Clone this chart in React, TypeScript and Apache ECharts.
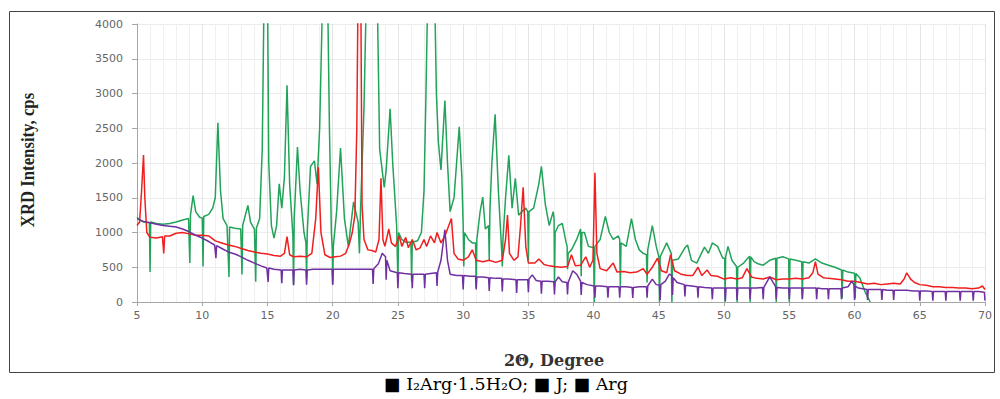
import React, { useEffect, useRef } from "react";
import * as echarts from "echarts";

// 2θ (degree), intensity (cps)
const greenData: [number, number][] = [
  [5.0, 1220], [5.2, 1180], [5.5, 1150], [5.95, 1140], [6.0, 430], [6.05, 1150], [6.5, 1130], [7.0, 1120],
  [7.5, 1130], [8.0, 1150], [8.5, 1180], [8.95, 1200], [9.05, 560], [9.1, 1250], [9.3, 1530], [9.5, 1300],
  [9.8, 1220], [10.0, 1210], [10.06, 510], [10.12, 1230], [10.5, 1260], [10.8, 1350], [11.0, 1500], [11.2, 2580],
  [11.4, 1600], [11.6, 1200], [11.9, 1100], [12.05, 360], [12.1, 1080], [12.5, 1060], [12.95, 1050], [13.05, 395],
  [13.1, 1100], [13.5, 1390], [13.7, 1150], [14.0, 1050], [14.1, 290], [14.15, 1060], [14.4, 1200], [14.6, 2200],
  [14.75, 4600], [15.0, 4600], [15.1, 2000], [15.3, 1100], [15.5, 920], [15.7, 1100], [15.9, 1700], [16.1, 1350],
  [16.3, 1800], [16.5, 3120], [16.7, 1700], [16.95, 950], [17.0, 245], [17.05, 1200], [17.3, 2230], [17.5, 1600],
  [17.8, 1000], [17.95, 850], [18.0, 330], [18.05, 1000], [18.3, 1950], [18.6, 2030], [18.8, 1700], [19.0, 2500],
  [19.25, 4600], [19.6, 4600], [19.75, 2500], [19.9, 1000], [19.97, 750], [20.0, 250], [20.05, 800], [20.3, 1300],
  [20.6, 2216], [20.9, 1200], [21.2, 800], [21.6, 1440], [21.95, 1150], [22.05, 700], [22.15, 1400], [22.4, 2800],
  [22.6, 4600], [23.4, 4600], [23.6, 2200], [23.95, 1650], [24.1, 1900], [24.4, 2780], [24.6, 2000], [24.9, 1100],
  [25.0, 300], [25.05, 1000], [25.3, 900], [25.6, 860], [26.0, 860], [26.05, 300], [26.1, 860], [26.5, 880],
  [26.8, 1000], [27.0, 1600], [27.15, 3000], [27.3, 4600], [27.55, 4400], [27.8, 4600], [27.95, 3000], [28.1, 2300],
  [28.3, 1900], [28.6, 2900], [28.8, 2000], [29.0, 1300], [29.3, 1500], [29.7, 2520], [29.9, 1800], [30.0, 1100],
  [30.05, 510], [30.1, 1000], [30.4, 900], [30.7, 850], [30.95, 850], [31.0, 200], [31.05, 900], [31.3, 1300],
  [31.5, 1510], [31.7, 1050], [31.95, 1100], [32.0, 600], [32.05, 1300], [32.2, 2000], [32.45, 2700], [32.7, 1600],
  [32.95, 750], [33.0, 510], [33.05, 900], [33.25, 1500], [33.5, 2110], [33.75, 1350], [34.0, 1780], [34.25, 1250],
  [34.5, 1300], [34.8, 1350], [34.95, 1300], [35.0, 600], [35.05, 1300], [35.4, 1350], [35.8, 1700], [36.0, 1950],
  [36.3, 1400], [36.6, 1100], [36.9, 1300], [36.97, 1200], [37.0, 230], [37.05, 1000], [37.3, 1100], [37.6, 1130],
  [37.9, 850], [37.97, 800], [38.0, 470], [38.05, 700], [38.3, 750], [38.7, 900], [39.0, 1050], [39.05, 370],
  [39.1, 1000], [39.3, 1000], [39.6, 800], [40.0, 780], [40.05, 0], [40.1, 800], [40.5, 900], [40.9, 1230],
  [41.2, 1000], [41.5, 900], [41.9, 950], [42.0, 900], [42.05, 230], [42.1, 850], [42.5, 800], [42.9, 1200],
  [43.2, 900], [43.5, 750], [43.8, 700], [44.05, 680], [44.1, 280], [44.15, 750], [44.5, 1100], [44.8, 800],
  [45.0, 650], [45.05, 0], [45.1, 650], [45.6, 850], [45.95, 700], [46.0, 0], [46.05, 600], [46.5, 620],
  [47.0, 780], [47.2, 820], [47.5, 600], [47.9, 560], [48.5, 790], [48.8, 700], [49.1, 850], [49.5, 800],
  [49.9, 630], [50.05, 630], [50.08, 0], [50.12, 650], [50.3, 800], [50.6, 600], [50.95, 510], [51.0, 0],
  [51.05, 500], [51.5, 560], [51.95, 660], [52.0, 0], [52.05, 650], [52.3, 580], [52.6, 550], [53.0, 530],
  [53.5, 600], [53.95, 630], [54.0, 0], [54.05, 630], [54.5, 650], [54.95, 620], [55.0, 0], [55.05, 620],
  [55.5, 600], [55.95, 580], [56.0, 50], [56.05, 580], [56.5, 560], [57.0, 620], [57.5, 560], [58.0, 530],
  [58.5, 500], [59.0, 460], [59.05, 50], [59.1, 460], [59.5, 430], [60.0, 415], [60.05, 50], [60.1, 410],
  [60.4, 350], [60.8, 150], [61.2, 0],
];

const redData: [number, number][] = [
  [5.0, 1100], [5.2, 1150], [5.35, 1600], [5.5, 2115], [5.6, 1500], [5.75, 1000], [6.0, 930], [6.5, 920],
  [6.95, 940], [7.05, 700], [7.12, 950], [7.5, 950], [8.0, 990], [8.5, 1000], [9.0, 980], [9.5, 960],
  [10.0, 960], [10.5, 950], [11.0, 880], [11.5, 850], [12.0, 820], [12.5, 800], [13.0, 770], [13.5, 740],
  [14.0, 720], [14.5, 700], [15.0, 690], [15.5, 670], [16.0, 660], [16.3, 700], [16.5, 940], [16.7, 680],
  [17.0, 650], [17.5, 660], [18.0, 650], [18.4, 700], [18.7, 1200], [18.9, 1940], [19.1, 1000], [19.4, 680],
  [19.8, 640], [20.2, 650], [20.6, 660], [21.0, 700], [21.3, 850], [21.5, 1000], [21.7, 1250], [21.85, 2500],
  [21.95, 4600], [22.15, 4600], [22.25, 1400], [22.4, 900], [22.7, 750], [23.0, 740], [23.3, 720], [23.55, 900],
  [23.7, 1780], [23.85, 900], [24.0, 800], [24.3, 1050], [24.5, 850], [24.8, 800], [25.1, 950], [25.3, 800],
  [25.6, 930], [25.8, 780], [26.1, 900], [26.4, 750], [26.7, 780], [27.0, 900], [27.2, 800], [27.5, 950],
  [27.8, 850], [28.0, 1000], [28.3, 850], [28.6, 950], [28.9, 1100], [29.1, 1200], [29.3, 700], [29.6, 620],
  [30.0, 600], [30.4, 650], [30.7, 750], [31.0, 600], [31.5, 580], [32.0, 600], [32.5, 570], [33.0, 600],
  [33.25, 900], [33.4, 1250], [33.55, 700], [33.9, 600], [34.2, 650], [34.4, 1100], [34.6, 1650], [34.8, 800],
  [35.0, 560], [35.5, 560], [35.8, 620], [36.2, 540], [36.6, 520], [37.0, 510], [37.5, 500], [38.0, 510],
  [38.3, 680], [38.6, 520], [39.0, 530], [39.4, 650], [39.7, 500], [39.95, 600], [40.1, 1860], [40.25, 700],
  [40.5, 480], [41.0, 450], [41.5, 560], [41.8, 430], [42.3, 440], [42.8, 420], [43.3, 430], [43.8, 480],
  [44.1, 400], [44.5, 500], [44.9, 630], [45.2, 450], [45.6, 420], [45.9, 680], [46.2, 450], [46.7, 400],
  [47.2, 380], [47.6, 380], [48.0, 500], [48.3, 380], [48.7, 460], [49.0, 380], [49.5, 370], [50.0, 330],
  [50.5, 350], [51.0, 330], [51.4, 350], [51.75, 480], [52.1, 360], [52.5, 340], [53.0, 330], [53.5, 360],
  [54.0, 320], [54.5, 330], [55.0, 330], [55.5, 340], [56.0, 330], [56.5, 350], [56.8, 420], [57.0, 580],
  [57.2, 400], [57.6, 350], [58.0, 340], [58.5, 330], [59.0, 320], [59.5, 300], [60.0, 300], [60.5, 280],
  [61.0, 260], [61.5, 270], [62.0, 250], [62.5, 260], [63.0, 270], [63.5, 260], [63.8, 330], [64.0, 420],
  [64.3, 330], [64.6, 280], [65.0, 250], [65.5, 240], [66.0, 220], [66.5, 220], [67.0, 210], [67.5, 210],
  [68.0, 200], [68.5, 200], [69.0, 190], [69.5, 200], [69.8, 230], [70.0, 180],
];

const purpleData: [number, number][] = [
  [5.0, 1200], [5.5, 1160], [6.0, 1140], [6.5, 1120], [7.0, 1100], [7.5, 1090], [8.0, 1080], [8.5, 1050],
  [9.0, 1010], [9.5, 960], [10.0, 920], [10.5, 870], [10.95, 820], [11.05, 630], [11.1, 810], [11.5, 770],
  [12.0, 720], [12.5, 690], [13.0, 650], [13.5, 600], [14.0, 560], [14.5, 520], [14.95, 490], [15.05, 290],
  [15.1, 490], [15.5, 470], [16.05, 460], [16.1, 270], [16.15, 460], [16.5, 460], [16.95, 460], [17.0, 240],
  [17.05, 460], [17.5, 470], [17.95, 460], [18.0, 250], [18.05, 460], [18.5, 470], [19.0, 470], [19.5, 470],
  [19.95, 470], [20.0, 250], [20.05, 470], [20.5, 470], [21.0, 470], [21.5, 470], [22.0, 470], [22.5, 470],
  [23.05, 470], [23.1, 260], [23.15, 480], [23.5, 550], [23.8, 700], [24.05, 650], [24.1, 320], [24.15, 600],
  [24.4, 450], [24.95, 420], [25.0, 200], [25.05, 420], [25.5, 410], [26.05, 400], [26.1, 200], [26.15, 400],
  [26.5, 400], [27.0, 400], [27.05, 200], [27.1, 400], [27.5, 410], [27.95, 420], [28.0, 230], [28.05, 430],
  [28.3, 600], [28.6, 1040], [28.8, 600], [29.0, 400], [29.5, 380], [29.95, 380], [30.0, 180], [30.05, 380],
  [30.5, 370], [30.95, 370], [31.0, 180], [31.05, 360], [31.5, 360], [31.95, 350], [32.0, 160], [32.05, 350],
  [32.5, 340], [32.95, 340], [33.0, 150], [33.05, 330], [33.5, 330], [34.05, 320], [34.1, 130], [34.15, 320],
  [34.5, 320], [34.95, 320], [35.0, 140], [35.05, 330], [35.3, 390], [35.6, 310], [35.95, 300], [36.0, 120],
  [36.05, 300], [36.5, 300], [36.95, 290], [37.0, 110], [37.05, 290], [37.3, 360], [37.6, 290], [37.95, 280],
  [38.0, 110], [38.05, 280], [38.4, 450], [38.7, 400], [39.0, 300], [39.05, 100], [39.1, 280], [39.5, 250],
  [40.05, 230], [40.1, 60], [40.15, 230], [40.5, 230], [41.05, 220], [41.1, 60], [41.15, 220], [41.5, 220],
  [41.95, 220], [42.0, 60], [42.05, 220], [42.5, 220], [42.95, 210], [43.0, 60], [43.05, 210], [43.5, 220],
  [44.05, 220], [44.1, 60], [44.15, 230], [44.5, 330], [44.8, 250], [45.05, 240], [45.1, 30], [45.15, 250],
  [45.5, 300], [45.8, 400], [46.0, 380], [46.05, 100], [46.1, 350], [46.4, 280], [46.95, 250], [47.0, 80],
  [47.05, 240], [47.5, 230], [47.95, 220], [48.0, 60], [48.05, 220], [48.5, 210], [49.05, 200], [49.1, 40],
  [49.15, 200], [49.5, 200], [50.05, 200], [50.1, 20], [50.15, 200], [50.5, 200], [50.95, 200], [51.0, 30],
  [51.05, 200], [51.5, 200], [51.95, 200], [52.0, 40], [52.05, 200], [52.5, 200], [52.95, 210], [53.0, 40],
  [53.05, 210], [53.5, 360], [53.95, 220], [54.0, 40], [54.05, 210], [54.5, 200], [54.95, 200], [55.0, 40],
  [55.05, 200], [55.5, 200], [55.95, 200], [56.0, 40], [56.05, 200], [56.5, 200], [57.05, 200], [57.1, 40],
  [57.15, 200], [57.5, 190], [57.95, 190], [58.0, 40], [58.05, 190], [58.5, 190], [58.95, 190], [59.0, 40],
  [59.05, 200], [59.5, 220], [59.8, 300], [59.95, 250], [60.0, 30], [60.05, 230], [60.3, 200], [60.95, 180],
  [61.0, 30], [61.05, 180], [61.5, 180], [62.05, 180], [62.1, 30], [62.15, 180], [62.5, 170], [62.95, 170],
  [63.0, 30], [63.05, 170], [63.5, 170], [64.0, 170], [64.5, 160], [64.95, 160], [65.0, 20], [65.05, 160],
  [65.5, 160], [65.95, 150], [66.0, 20], [66.05, 150], [66.5, 150], [66.95, 150], [67.0, 20], [67.05, 150],
  [67.5, 150], [68.05, 150], [68.1, 20], [68.15, 150], [68.5, 150], [69.05, 150], [69.1, 20], [69.15, 150],
  [69.5, 150], [69.95, 140], [70.0, 20],
];

const xTitle = "2Θ, Degree";
const yTitle = "XRD Intensity, cps";
const legendText = "■ I₂Arg·1.5H₂O; ■ J; ■ Arg";

export default function App() {
  const ref = useRef<HTMLDivElement>(null);
  useEffect(() => {
    if (!ref.current) return;
    const chart = echarts.init(ref.current, undefined, { renderer: "svg" });
    const lineSeries = (data: [number, number][], color: string) => ({
      type: "line",
      data,
      showSymbol: false,
      symbol: "none",
      clip: true,
      lineStyle: { color, width: 1.5 },
      emphasis: { disabled: true },
    });
    chart.setOption({
      animation: false,
      backgroundColor: "#ffffff",
      grid: { left: 137, right: 15, top: 24, bottom: 97 },
      xAxis: {
        type: "value",
        min: 5,
        max: 70,
        interval: 5,
        axisLine: { lineStyle: { color: "#a6a6a6" } },
        axisTick: { show: true, length: 4, lineStyle: { color: "#a6a6a6" } },
        axisLabel: { color: "#666", fontFamily: "DejaVu Sans", fontSize: 11, margin: 8 },
        splitLine: { show: true, lineStyle: { color: "#e4e4e4", width: 1 } },
        minorTick: { show: false, splitNumber: 5 },
        minorSplitLine: { show: true, lineStyle: { color: "#f0f0f0", width: 1 } },
      },
      yAxis: {
        type: "value",
        min: 0,
        max: 4000,
        interval: 500,
        axisLine: { show: true, lineStyle: { color: "#a6a6a6" } },
        axisTick: { show: true, length: 5, lineStyle: { color: "#a6a6a6" } },
        axisLabel: {
          color: "#666",
          fontFamily: "DejaVu Sans",
          fontSize: 11,
          margin: 14,
          formatter: (v: number) => String(v),
        },
        splitLine: { show: true, lineStyle: { color: "#ececec", width: 1 } },
      },
      series: [
        lineSeries(greenData, "#22a35a"),
        lineSeries(redData, "#f01e1e"),
        lineSeries(purpleData, "#7030a0"),
      ],
      graphic: [
        {
          type: "rect",
          shape: { x: 9.5, y: 11.5, width: 985, height: 361 },
          style: { fill: "none", stroke: "#444", lineWidth: 1 },
          silent: true,
        },
        {
          type: "text",
          x: 28,
          y: 160,
          rotation: Math.PI / 2,
          scaleX: 0.93,
          style: {
            text: yTitle,
            font: "bold 18px 'Liberation Serif', 'Times New Roman', serif",
            fill: "#222",
            textAlign: "center",
            textVerticalAlign: "middle",
          },
        },
        {
          type: "text",
          x: 554,
          y: 360,
          style: {
            text: xTitle,
            font: "bold 16px 'DejaVu Serif', 'Liberation Serif', serif",
            fill: "#333",
            textAlign: "center",
            textVerticalAlign: "middle",
          },
        },
        {
          type: "text",
          x: 506,
          y: 384,
          style: {
            text: legendText,
            font: "17.5px 'DejaVu Serif', 'Liberation Serif', serif",
            fill: "#000",
            textAlign: "center",
            textVerticalAlign: "middle",
          },
        },
      ],
    });
    return () => chart.dispose();
  }, []);
  return (
    <div
      ref={ref}
      style={{ position: "fixed", left: 0, top: 0, width: 1000, height: 399, background: "#fff" }}
    />
  );
}
